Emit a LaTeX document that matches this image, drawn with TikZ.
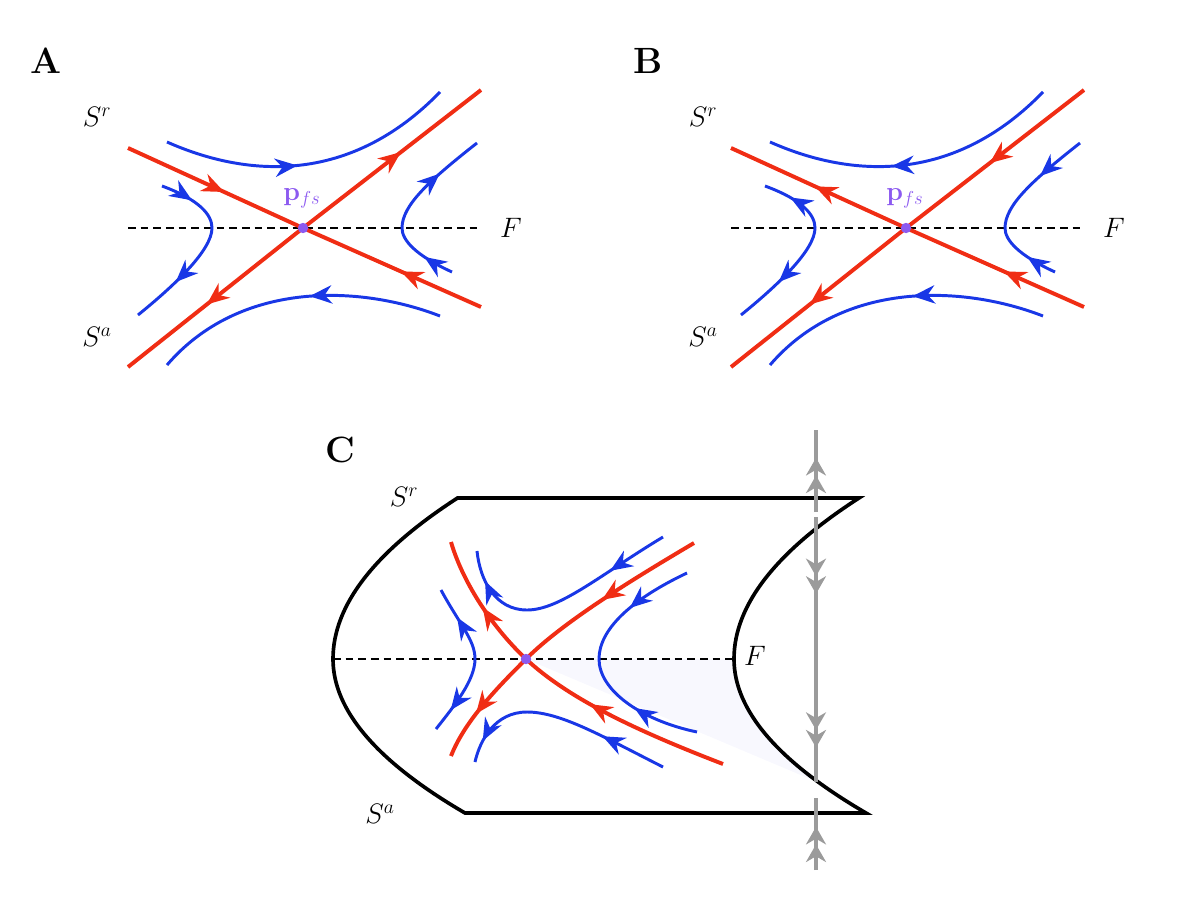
\RequirePackage{fix-cm}
\documentclass[tikz,border=0pt]{standalone}
\usepackage{amsmath,amssymb}
\usepackage{tikz}
\usetikzlibrary{arrows.meta,decorations.markings,positioning,calc}
\usepackage{xcolor}

\definecolor{flowred}{RGB}{240,45,20}
\definecolor{flowblue}{RGB}{25,55,230}
\definecolor{fspurple}{RGB}{140,90,240}
\definecolor{fastgray}{RGB}{155,155,155}
\definecolor{sheetshade}{RGB}{248,248,254}

\begin{document}
\begin{tikzpicture}[
    x=0.025cm, y=-0.025cm,
    redline/.style={flowred, line width=2.8pt},
    blueline/.style={flowblue, line width=2.1pt},
    fold/.style={black, line width=1.4pt, dash pattern=on 5.5pt off 3.5pt},
    surface/.style={black, line width=2.6pt},
    fastline/.style={fastgray, line width=2.2pt},
    fwd/.style={postaction={decorate,decoration={markings,
        mark=at position #1 with {\arrow{Stealth[length=5.6mm,width=4.6mm]}}}}},
    bwd/.style={postaction={decorate,decoration={markings,
        mark=at position #1 with {\arrowreversed{Stealth[length=5.6mm,width=4.6mm]}}}}},
    dbl/.style={postaction={decorate,decoration={markings,
        mark=at position #1 with {\arrow{Stealth[length=4.4mm,width=5mm] Stealth[length=4.4mm,width=5mm]}}}}},
    fsdot/.style={circle, fill=fspurple, inner sep=0pt, minimum size=2.6mm},
    panel/.style={font=\fontsize{26}{30}\selectfont\bfseries, inner sep=0pt},
    lab/.style={font=\fontsize{20}{24}\selectfont, inner sep=0pt},
    fslab/.style={font=\fontsize{19}{22}\selectfont, text=fspurple, inner sep=0pt}
]
\useasboundingbox (0,0) rectangle (1200,900);

% ---------- panel A ----------
\node[panel] (labA) at (46,61) {A};
\coordinate (pA) at (303,228);
\coordinate (fA1) at (128,228);
\coordinate (fA2) at (482,228);
\coordinate (rA1) at (128,148);
\coordinate (rA2) at (481,307);
\coordinate (rA3) at (128,367);
\coordinate (rA4) at (481,90);

\draw[fold] (fA1) -- (fA2);
\draw[blueline, fwd=0.45] (167,142) .. controls (230,170) and (340,195) .. (440,92);
\draw[blueline, fwd=0.45] (440,316) .. controls (360,285) and (240,280) .. (167,365);
\draw[blueline, fwd=0.18, fwd=0.73] (162,186) .. controls (200,200) and (212,215) .. (212,228)
    .. controls (212,250) and (175,285) .. (138,315);
\draw[blueline, fwd=0.17, fwd=0.74] (452,272) .. controls (415,255) and (402,240) .. (402,228)
    .. controls (402,205) and (430,180) .. (477,143);
\draw[redline, fwd=0.55] (rA1) -- (pA);
\draw[redline, fwd=0.45] (rA2) -- (pA);
\draw[redline, fwd=0.55] (pA) -- (rA4);
\draw[redline, fwd=0.55] (pA) -- (rA3);
\node[fsdot] (dotA) at (pA) {};
\node[fslab] (pfsA) at (302,198) {$\mathbf{p}_{fs}$};
\node[lab] (SrA) at (97,117) {$S^r$};
\node[lab] (SaA) at (97,337) {$S^a$};
\node[lab] (FA) at (511,228) {$F$};

% ---------- panel B ----------
\begin{scope}[shift={(603,0)}]
\node[panel] (labB) at (45,61) {B};
\coordinate (pB) at (303,228);
\coordinate (fB1) at (128,228);
\coordinate (fB2) at (482,228);
\coordinate (rB1) at (128,148);
\coordinate (rB2) at (481,307);
\coordinate (rB3) at (128,367);
\coordinate (rB4) at (481,90);

\draw[fold] (fB1) -- (fB2);
\draw[blueline, fwd=0.58] (440,92) .. controls (340,195) and (230,170) .. (167,142);
\draw[blueline, fwd=0.45] (440,316) .. controls (360,285) and (240,280) .. (167,365);
\draw[blueline, bwd=0.15, fwd=0.73] (162,186) .. controls (200,200) and (212,215) .. (212,228)
    .. controls (212,250) and (175,285) .. (138,315);
\draw[blueline, fwd=0.17, bwd=0.72] (452,272) .. controls (415,255) and (402,240) .. (402,228)
    .. controls (402,205) and (430,180) .. (477,143);
\draw[redline, fwd=0.52] (pB) -- (rB1);
\draw[redline, fwd=0.45] (rB2) -- (pB);
\draw[redline, fwd=0.53] (rB4) -- (pB);
\draw[redline, fwd=0.55] (pB) -- (rB3);
\node[fsdot] (dotB) at (pB) {};
\node[fslab] (pfsB) at (302,198) {$\mathbf{p}_{fs}$};
\node[lab] (SrB) at (100,117) {$S^r$};
\node[lab] (SaB) at (100,337) {$S^a$};
\node[lab] (FB) at (511,228) {$F$};
\end{scope}

% ---------- panel C ----------
\node[panel] (labC) at (340,450) {C};
\coordinate (pC) at (526,659);
\coordinate (cL) at (333,659);
\coordinate (cF) at (734,659);
\coordinate (cTL) at (457.5,498);
\coordinate (cTR) at (859,498);
\coordinate (cBR) at (866,813);
\coordinate (cBL) at (465,813);

\fill[sheetshade] (pC) -- (cF) -- plot[domain=0:124, samples=30] ({734+0.00557*\x*\x},{659+\x}) -- cycle;
\draw[surface] (cTL) -- (cTR) .. controls (775.7,551.7) and (734,605.3) .. (cF)
    .. controls (734,710.3) and (778,761.7) .. (cBR) -- (cBL)
    .. controls (377,761.7) and (333,710.3) .. (cL)
    .. controls (333,605.3) and (374.5,551.7) .. cycle;
\draw[fold] (cL) -- (cF);

% fast fibre
\coordinate (g1) at (816,430);
\coordinate (g2) at (816,512);
\coordinate (g3) at (816,517);
\coordinate (g4) at (816,782);
\coordinate (g5) at (816,798);
\coordinate (g6) at (816,870);
\draw[fastline, dbl=0.66] (g2) -- (g1);
\draw[fastline, dbl=0.29, dbl=0.87] (g3) -- (g4);
\draw[fastline, dbl=0.6] (g6) -- (g5);

\draw[blueline, fwd=0.26, fwd=0.87] (663,537) .. controls (600,575) and (560,610) .. (527,610)
    .. controls (495,610) and (480,580) .. (477,551);
\draw[blueline, fwd=0.3, fwd=0.9] (663,767) .. controls (600,735) and (560,712) .. (527,712)
    .. controls (495,712) and (480,740) .. (475,762);
\draw[blueline, bwd=0.2, fwd=0.85] (441,590) .. controls (460,625) and (475,640) .. (475,659)
    .. controls (475,680) and (455,705) .. (436,729);
\draw[blueline, fwd=0.26, bwd=0.74] (687,573) .. controls (630,600) and (599,630) .. (599,659)
    .. controls (599,690) and (640,720) .. (697,732);
\draw[redline, fwd=0.4, fwd=0.8] (723,764) .. controls (640,732) and (570,700) .. (pC)
    .. controls (490,625) and (462,580) .. (451,542);
\draw[redline, fwd=0.33, fwd=0.85] (694,543) .. controls (640,575) and (565,620) .. (pC)
    .. controls (500,685) and (465,720) .. (451,756);
\node[fsdot] (dotC) at (pC) {};
\node[lab] (SrC) at (404,497) {$S^r$};
\node[lab] (SaC) at (380,814) {$S^a$};
\node[lab] (FC) at (755,656) {$F$};

\end{tikzpicture}
\end{document}
